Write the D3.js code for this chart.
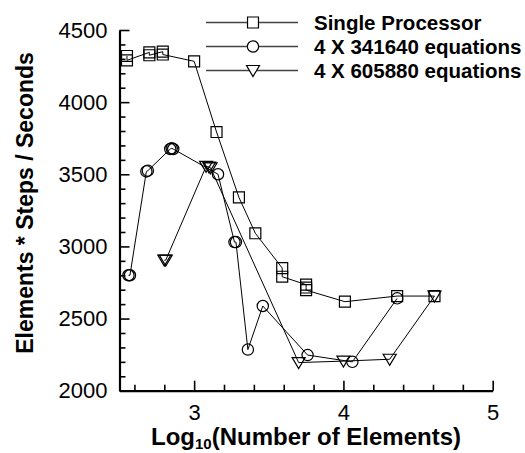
<!DOCTYPE html>
<html>
<head>
<meta charset="utf-8">
<script src="https://cdn.jsdelivr.net/npm/d3@7"></script>
<style>
  body { margin: 0; background: #fff; }
  svg { font-family: "Liberation Sans", Arial, Helvetica, sans-serif; }
</style>
</head>
<body>
<div id="chart"></div>
<script>
// Elements * Steps / Seconds vs Log10(Number of Elements)

// series data (repeated points are overlapping runs)
const squareX = [2.55, 2.55, 2.70, 2.70, 2.79, 2.79, 3.00, 3.15, 3.30, 3.41, 3.59, 3.59, 3.75, 3.75, 3.75, 4.01, 4.36, 4.61];
const squareY = [4320, 4290, 4345, 4325, 4350, 4330, 4283, 3793, 3340, 3091, 2850, 2790, 2735, 2715, 2697, 2617, 2656, 2656];

const circleX = [2.56, 2.57, 2.68, 2.69, 2.84, 2.85, 2.86, 3.16, 3.27, 3.28, 3.36, 3.46, 3.76, 4.06, 4.36];
const circleY = [2800, 2800, 3520, 3525, 3675, 3680, 3675, 3500, 3030, 3030, 2285, 2587, 2247, 2200, 2640];

const triangleX = [2.80, 2.81, 3.08, 3.10, 3.11, 3.70, 4.00, 4.31, 4.61];
const triangleY = [2905, 2905, 3555, 3550, 3545, 2195, 2205, 2218, 2656];

const seriesNames = ["Single Processor", "4 X 341640 equations", "4 X 605880 equations"];
const xTicks = [3, 4, 5];
const yTicks = [2000, 2500, 3000, 3500, 4000, 4500];

const width = 525;
const height = 453;
const plotLeft = 119.5, plotRight = 492.7, plotTop = 30, plotBottom = 390.7;

const svg = d3.select("#chart")
    .append("svg")
    .attr("width", width)
    .attr("height", height);

const x = d3.scaleLinear().domain([2.5, 5]).range([plotLeft, plotRight]);
const y = d3.scaleLinear().domain([2000, 4500]).range([plotBottom, plotTop]);

// axes: major ticks with labels, minor ticks without
const xMinor = d3.range(2.6, 5.0, 0.2).filter(v => Math.abs(v - Math.round(v)) > 0.01);
const yMinor = d3.range(2100, 4500, 100).filter(v => v % 500 !== 0);

const xAxis = svg.append("g").attr("transform", `translate(0,${plotBottom})`);
xAxis.call(d3.axisBottom(x).tickValues(xTicks).tickSizeInner(-10).tickSizeOuter(0).tickPadding(14).tickFormat(d3.format("d")));
xAxis.append("g").call(d3.axisBottom(x).tickValues(xMinor).tickSize(-6).tickFormat(""))
    .select(".domain").remove();

const yAxis = svg.append("g").attr("transform", `translate(${plotLeft},0)`);
yAxis.call(d3.axisLeft(y).tickValues(yTicks).tickSizeInner(-10).tickSizeOuter(0).tickPadding(12).tickFormat(d3.format("d")));
yAxis.append("g").call(d3.axisLeft(y).tickValues(yMinor).tickSize(-6).tickFormat(""))
    .select(".domain").remove();

svg.selectAll(".domain").attr("stroke", "#000").attr("stroke-width", 2.2);
svg.selectAll(".tick line").attr("stroke", "#000").attr("stroke-width", 1.6);
svg.selectAll(".tick text").attr("font-size", 22).attr("fill", "#000")
    .attr("font-family", "Liberation Sans, Arial, sans-serif");

// axis titles
svg.append("text")
    .attr("transform", "translate(33,203) rotate(-90)")
    .attr("text-anchor", "middle")
    .attr("font-size", 23)
    .attr("font-weight", "bold")
    .text("Elements * Steps / Seconds");

const xt = svg.append("text")
    .attr("x", 306)
    .attr("y", 445)
    .attr("text-anchor", "middle")
    .attr("font-size", 24)
    .attr("font-weight", "bold");
xt.append("tspan").text("Log");
xt.append("tspan").attr("font-size", 15).attr("dy", 4).text("10");
xt.append("tspan").attr("dy", -4).text("(Number of Elements)");

// markers
const square = d3.symbol().type(d3.symbolSquare).size(120);
const circle = d3.symbol().type(d3.symbolCircle).size(100);
const triDown = "M-6.5,-5L6.5,-5L0,6Z";

const series = [
    { xs: squareX, ys: squareY, shape: square() },
    { xs: circleX, ys: circleY, shape: circle() },
    { xs: triangleX, ys: triangleY, shape: triDown }
];

const line = d3.line().x(d => x(d[0])).y(d => y(d[1]));

series.forEach(s => {
    const pts = s.xs.map((v, i) => [v, s.ys[i]]);
    svg.append("path")
        .datum(pts)
        .attr("d", line)
        .attr("fill", "none")
        .attr("stroke", "#000")
        .attr("stroke-width", 1);
    svg.append("g").selectAll("path")
        .data(pts)
        .enter()
        .append("path")
        .attr("d", s.shape)
        .attr("transform", d => `translate(${x(d[0])},${y(d[1])})`)
        .attr("fill", "none")
        .attr("stroke", "#000")
        .attr("stroke-width", 1.2);
});

// legend
const legend = svg.append("g");
series.forEach((s, i) => {
    const ly = 22.5 + i * 24;
    legend.append("line")
        .attr("x1", 206).attr("x2", 298)
        .attr("y1", ly).attr("y2", ly)
        .attr("stroke", "#444")
        .attr("stroke-width", 1.3);
    legend.append("path")
        .attr("d", s.shape)
        .attr("transform", `translate(253,${ly})`)
        .attr("fill", "#fff")
        .attr("stroke", "#000")
        .attr("stroke-width", 1.2);
    legend.append("text")
        .attr("x", 314)
        .attr("y", ly + 7)
        .attr("font-size", 20.5)
        .attr("font-weight", "bold")
        .text(seriesNames[i]);
});
</script>
</body>
</html>
